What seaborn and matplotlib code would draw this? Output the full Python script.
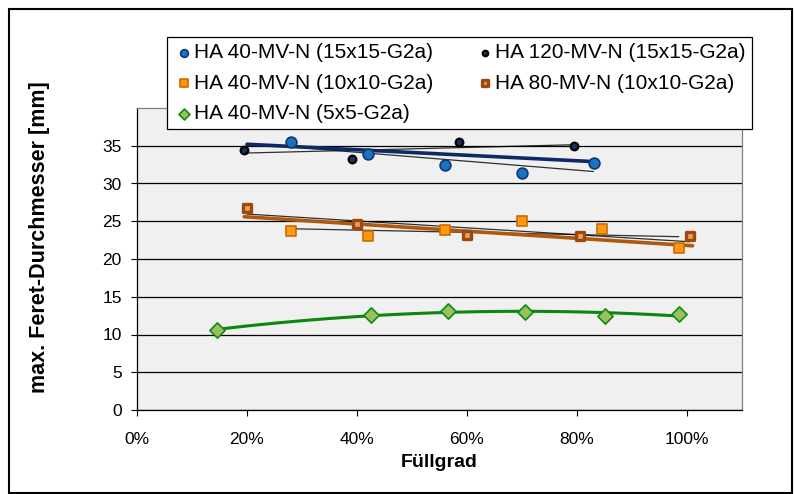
import numpy as np
import pandas as pd
import seaborn as sns
import matplotlib.pyplot as plt
from matplotlib.patches import Rectangle

# Füllgrad (fraction) and max. Feret-Durchmesser [mm]
x_40_15 = [0.28, 0.42, 0.56, 0.70, 0.83]
y_40_15 = [35.5, 33.9, 32.5, 31.4, 32.7]

x_120_15 = [0.195, 0.39, 0.585, 0.795]
y_120_15 = [34.5, 33.3, 35.5, 35.0]

x_40_10 = [0.28, 0.42, 0.56, 0.70, 0.845, 0.985]
y_40_10 = [23.7, 23.0, 23.8, 25.0, 24.0, 21.4]

x_80_10 = [0.20, 0.40, 0.60, 0.805, 1.005]
y_80_10 = [26.8, 24.6, 23.2, 23.0, 23.0]

x_40_5 = [0.145, 0.425, 0.565, 0.705, 0.85, 0.985]
y_40_5 = [10.6, 12.6, 13.1, 13.0, 12.5, 12.7]

# thick trend lines of the two groups (end points)
trend15_x = [0.20, 0.83]
trend15_y = [35.2, 32.9]
trend10_x = [0.195, 1.01]
trend10_y = [25.6, 21.75]

labels = ["HA 40-MV-N (15x15-G2a)", "HA 120-MV-N (15x15-G2a)",
          "HA 40-MV-N (10x10-G2a)", "HA 80-MV-N (10x10-G2a)",
          "HA 40-MV-N (5x5-G2a)"]

sns.set_style("white")
plt.rcParams['font.family'] = ['Liberation Sans', 'DejaVu Sans']
plt.rcParams['text.color'] = 'black'
plt.rcParams['axes.labelcolor'] = 'black'
plt.rcParams['xtick.color'] = 'black'
plt.rcParams['ytick.color'] = 'black'

fig = plt.figure(figsize=(7.94, 4.94), dpi=100)
ax = fig.add_axes([137 / 794, 1 - 410 / 494, (742 - 137) / 794, (410 - 108) / 494])
ax.set_facecolor('#f0f0f0')


def fit_line(xs, ys, deg=1, n=50):
    xs = np.asarray(xs)
    p = np.polyfit(xs, ys, deg)
    xx = np.linspace(xs.min(), xs.max(), n)
    return pd.DataFrame({'x': xx, 'y': np.polyval(p, xx)})


# thin black trend lines for single series
for xs, ys in [(x_40_15, y_40_15), (x_120_15, y_120_15), (x_40_10, y_40_10), (x_80_10, y_80_10)]:
    d = fit_line(xs, ys)
    sns.lineplot(data=d, x='x', y='y', ax=ax, color='black', lw=0.9, alpha=0.8)

# thick group trend lines
sns.lineplot(x=trend15_x, y=trend15_y, ax=ax, color='#0e2a66', lw=2.6)
sns.lineplot(x=trend10_x, y=trend10_y, ax=ax, color='#b0580e', lw=2.6)
# polynomial trend for 5x5
d = fit_line(x_40_5, y_40_5, deg=2)
sns.lineplot(data=d, x='x', y='y', ax=ax, color='#0b870b', lw=2.2)

h = []
h.append(ax.scatter(x_40_15, y_40_15, s=60, marker='o', c='#1a73c0', edgecolors='#10376e', linewidths=1.2, zorder=5))
h.append(ax.scatter(x_120_15, y_120_15, s=30, marker='o', c='#1a3060', edgecolors='black', linewidths=1.6, zorder=5))
h.append(ax.scatter(x_40_10, y_40_10, s=55, marker='s', c='#ff9a10', edgecolors='#d06a00', linewidths=1.2, zorder=5))
h.append(ax.scatter(x_80_10, y_80_10, s=40, marker='s', c='#f0a050', edgecolors='#9a4a10', linewidths=2.4, zorder=5))
h.append(ax.scatter(x_40_5, y_40_5, s=60, marker='D', c='#9bc060', edgecolors='#118a11', linewidths=1.2, zorder=5))

ax.set_xlim(0, 1.1)
ax.set_ylim(0, 40)
ax.set_xticks([0, 0.2, 0.4, 0.6, 0.8, 1.0])
ax.set_xticklabels(['0%', '20%', '40%', '60%', '80%', '100%'], fontsize=12.5)
ax.set_yticks(range(0, 40, 5))
ax.set_yticklabels([str(v) for v in range(0, 40, 5)], fontsize=12.5)
ax.yaxis.grid(True, color='black', lw=0.9)
ax.set_axisbelow(True)
ax.tick_params(axis='both', direction='out', length=4, width=0.8, color='black', left=True, bottom=True)
ax.tick_params(axis='x', pad=12)
ax.tick_params(axis='y', pad=7)
for s in ['top', 'right']:
    ax.spines[s].set_color('#808080')
    ax.spines[s].set_linewidth(0.9)
for s in ['left', 'bottom']:
    ax.spines[s].set_color('black')
    ax.spines[s].set_linewidth(0.9)

ax.set_xlabel('Füllgrad', fontsize=14, fontweight='bold', labelpad=5)
ax.set_ylabel('')
fig.text(40 / 794, 1 - 237 / 494, 'max. Feret-Durchmesser [mm]', rotation=90,
         fontsize=15.5, fontweight='bold', ha='center', va='center')

order = [0, 2, 4, 1, 3]
leg = fig.legend([h[i] for i in order], [labels[i] for i in order], ncol=2,
                 loc='upper left', mode='expand',
                 bbox_to_anchor=(167 / 794, 1 - 127 / 494, (752 - 167) / 794, 90 / 494),
                 frameon=True, fancybox=False, fontsize=15, borderpad=0.3,
                 handletextpad=0.0, columnspacing=1.0, labelspacing=0.55,
                 markerscale=0.72, handlelength=1.0, borderaxespad=0)
leg.get_frame().set_edgecolor('black')
leg.get_frame().set_linewidth(0.9)
leg.get_frame().set_alpha(1)

fig.patches.append(Rectangle((9 / 794, 0.002), 1 - 9 / 794 - 0.003, 1 - 9 / 494 - 0.002,
                             transform=fig.transFigure, fill=False, edgecolor='black', lw=1.5))

fig.savefig('out.png', dpi=100)
